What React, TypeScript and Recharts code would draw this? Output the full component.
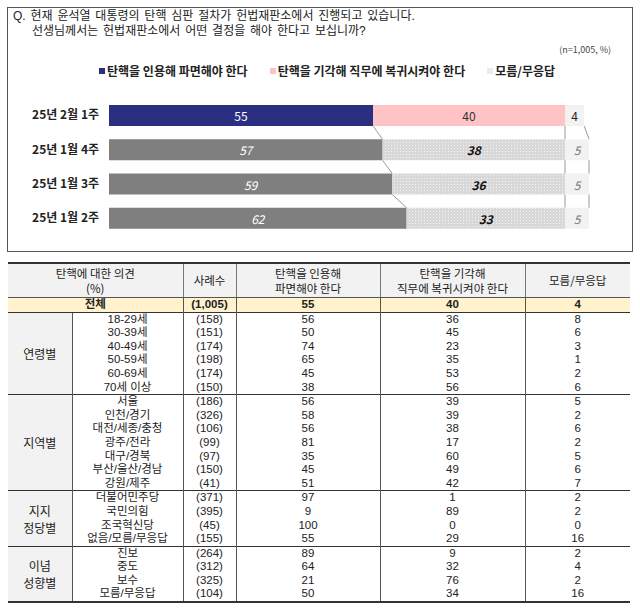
import { BarChart, Bar, XAxis, YAxis, Legend } from 'recharts'

const FONT = '"Noto Sans CJK KR", "Noto Sans", sans-serif'
const TABLE_FONT = '"Liberation Sans Narrow", "Liberation Sans", "Noto Sans CJK KR", sans-serif'
const TITLE_FONT = '"Liberation Sans", "Noto Sans CJK KR", sans-serif'

// chart data
const weeks = ['25년 2월 1주', '25년 1월 4주', '25년 1월 3주', '25년 1월 2주']
const removeVals = [55, 57, 59, 62]
const reinstateVals = [40, 38, 36, 33]
const unsureVals = [4, 5, 5, 5]
const seriesKeys = ['remove', 'reinstate', 'unsure']
const seriesNames = ['탄핵을 인용해 파면해야 한다', '탄핵을 기각해 직무에 복귀시켜야 한다', '모름/무응답']

// table data
type Row = [string, string, number, number, number]
const totalRow: Row = ['전체', '(1,005)', 55, 40, 4]
const ageRows: Row[] = [
  ['18-29세', '(158)', 56, 36, 8],
  ['30-39세', '(151)', 50, 45, 6],
  ['40-49세', '(174)', 74, 23, 3],
  ['50-59세', '(198)', 65, 35, 1],
  ['60-69세', '(174)', 45, 53, 2],
  ['70세 이상', '(150)', 38, 56, 6],
]
const regionRows: Row[] = [
  ['서울', '(186)', 56, 39, 5],
  ['인천/경기', '(326)', 58, 39, 2],
  ['대전/세종/충청', '(106)', 56, 38, 6],
  ['광주/전라', '(99)', 81, 17, 2],
  ['대구/경북', '(97)', 35, 60, 5],
  ['부산/울산/경남', '(150)', 45, 49, 6],
  ['강원/제주', '(41)', 51, 42, 7],
]
const partyRows: Row[] = [
  ['더불어민주당', '(371)', 97, 1, 2],
  ['국민의힘', '(395)', 9, 89, 2],
  ['조국혁신당', '(45)', 100, 0, 0],
  ['없음/모름/무응답', '(155)', 55, 29, 16],
]
const ideologyRows: Row[] = [
  ['진보', '(264)', 89, 9, 2],
  ['중도', '(312)', 64, 32, 4],
  ['보수', '(325)', 21, 76, 2],
  ['모름/무응답', '(104)', 50, 34, 16],
]
const groupLabels = [['연령별'], ['지역별'], ['지지', '정당별'], ['이념', '성향별']]
const groupRows = [ageRows, regionRows, partyRows, ideologyRows]

const chartData = weeks.map((w, i) => ({
  week: w,
  remove: removeVals[i],
  reinstate: reinstateVals[i],
  unsure: unsureVals[i],
}))

const CHART_W = 640
const CHART_H = 260
const MARGIN = { top: 98, right: 51, bottom: 25, left: 0 }
const STEP = (CHART_H - MARGIN.top - MARGIN.bottom) / weeks.length

const FIRST_FILL = ['#2b2f82', '#ffc3c6', '#f2f2f2']
const PAST_FILL = ['#7f7f7f', 'dots', '#f2f2f2']
const FIRST_LABEL = ['#ffffff', '#333333', '#222222']
const PAST_LABEL = ['#ffffff', '#111111', '#7a7a7a']

function makeShape(k: number) {
  return (props: any) => {
    const { x, y, width, height } = props
    const idx: number = props.index ?? 0
    const row: any = chartData[idx]
    const vals = seriesKeys.map(key => row[key] as number)
    const unit = width / vals[k]
    const before = vals.slice(0, k).reduce((a, b) => a + b, 0)
    const left = x - before * unit
    const first = idx === 0
    let fill = first ? FIRST_FILL[k] : PAST_FILL[k]
    const patId = `dots-${idx}`
    if (fill === 'dots') fill = `url(#${patId})`
    let connector = null
    if (idx < chartData.length - 1) {
      const next: any = chartData[idx + 1]
      const cumNext = seriesKeys.slice(0, k + 1).reduce((a, key) => a + (next[key] as number), 0)
      connector = (
        <line
          x1={x + width}
          y1={y + height}
          x2={left + cumNext * unit}
          y2={y + STEP}
          stroke="#9a9a9a"
          strokeWidth={1}
        />
      )
    }
    return (
      <g>
        {!first && k === 1 && (
          <defs>
            <pattern id={patId} width={3} height={3} patternUnits="userSpaceOnUse">
              <rect width={3} height={3} fill="#d8d8d8" />
              <rect x={1} y={1} width={1} height={1} fill="#f2f2f2" />
            </pattern>
          </defs>
        )}
        <rect x={x} y={y} width={width} height={height} fill={fill} />
        {connector}
        <text
          x={x + width / 2}
          y={y + height / 2}
          textAnchor="middle"
          dominantBaseline="central"
          fontSize={12}
          fontStyle={first ? 'normal' : 'italic'}
          fontWeight={!first && k === 1 ? 700 : 400}
          fill={first ? FIRST_LABEL[k] : PAST_LABEL[k]}
        >
          {vals[k]}
        </text>
      </g>
    )
  }
}

const legendSwatch = ['#2b2f82', '#ffc3c6', '#ececec']

function renderLegend() {
  return (
    <div style={{ display: 'flex', paddingLeft: 99, gap: 22, fontSize: 12, fontWeight: 700, color: '#222', lineHeight: '16px' }}>
      {seriesNames.map((n, i) => (
        <div key={n} style={{ display: 'flex', alignItems: 'center' }}>
          <span style={{ display: 'inline-block', width: 6, height: 6, background: legendSwatch[i], marginRight: 2 }} />
          <span>{n}</span>
        </div>
      ))}
    </div>
  )
}

const cellBase: React.CSSProperties = {
  padding: 0,
  height: 13.6,
  lineHeight: '13.6px',
  textAlign: 'center',
  borderLeft: '1px solid #555',
  whiteSpace: 'nowrap',
}

function DataTable() {
  const th: React.CSSProperties = {
    padding: 0,
    fontWeight: 400,
    fontSize: 11.5,
    fontFamily: FONT,
    height: 33,
    lineHeight: '15px',
    background: '#f2f2f2',
    borderTop: '2px solid #333',
    borderBottom: '1px solid #555',
    borderLeft: '1px solid #777',
    textAlign: 'center',
  }
  return (
    <table
      style={{
        position: 'absolute',
        left: 8,
        top: 262,
        width: 622,
        borderCollapse: 'collapse',
        tableLayout: 'fixed',
        fontSize: 11.5,
        color: '#222',
        fontFamily: TABLE_FONT,
      }}
    >
      <colgroup>
        <col style={{ width: 64 }} />
        <col style={{ width: 111 }} />
        <col style={{ width: 53 }} />
        <col style={{ width: 144 }} />
        <col style={{ width: 145 }} />
        <col style={{ width: 105 }} />
      </colgroup>
      <thead>
        <tr>
          <th colSpan={2} style={{ ...th, borderLeft: 'none' }}>탄핵에 대한 의견<br />(%)</th>
          <th style={th}>사례수</th>
          <th style={th}>탄핵을 인용해<br />파면해야 한다</th>
          <th style={th}>탄핵을 기각해<br />직무에 복귀시켜야 한다</th>
          <th style={th}>모름/무응답</th>
        </tr>
      </thead>
      <tbody>
        <tr style={{ background: '#fff2cc', fontWeight: 700 }}>
          <td colSpan={2} style={{ ...cellBase, borderLeft: 'none' }}>{totalRow[0]}</td>
          {totalRow.slice(1).map((v, i) => (
            <td key={i} style={cellBase}>{v}</td>
          ))}
        </tr>
        {groupRows.map((rows, g) =>
          rows.map((r, i) => {
            const sep: React.CSSProperties = i === 0 ? { borderTop: '1.5px solid #333' } : {}
            const last: React.CSSProperties =
              g === groupRows.length - 1 && i === rows.length - 1 ? { borderBottom: '2px solid #333' } : {}
            return (
              <tr key={`${g}-${i}`}>
                {i === 0 && (
                  <td
                    rowSpan={rows.length}
                    style={{
                      padding: 0,
                      textAlign: 'center',
                      verticalAlign: 'middle',
                      background: '#f2f2f2',
                      fontSize: 12,
                      lineHeight: '17px',
                      fontFamily: FONT,
                      borderTop: '1.5px solid #333',
                      borderBottom: g === groupRows.length - 1 ? '2px solid #333' : undefined,
                    }}
                  >
                    {groupLabels[g].map((l, j) => (
                      <div key={j}>{l}</div>
                    ))}
                  </td>
                )}
                {r.map((v, j) => (
                  <td key={j} style={{ ...cellBase, ...sep, ...last }}>{v}</td>
                ))}
              </tr>
            )
          })
        )}
      </tbody>
    </table>
  )
}

export default function App() {
  return (
    <div style={{ position: 'absolute', left: 0, top: 0, width: 640, height: 608, background: '#fff', fontFamily: FONT, color: '#222' }}>
      <div
        style={{
          position: 'absolute',
          left: 7,
          top: 7,
          width: 626,
          height: 245,
          border: '1.5px solid #555',
          boxSizing: 'border-box',
        }}
      />
      <div
        style={{
          position: 'absolute',
          left: 13,
          top: 8.5,
          fontSize: 12,
          lineHeight: '15px',
          color: '#222',
          wordSpacing: 1.5,
          fontFamily: TITLE_FONT,
        }}
      >
        <div>Q. 현재 윤석열 대통령의 탄핵 심판 절차가 헌법재판소에서 진행되고 있습니다.</div>
        <div style={{ marginLeft: 19 }}>선생님께서는 헌법재판소에서 어떤 결정을 해야 한다고 보십니까?</div>
      </div>
      <div style={{ position: 'absolute', right: 29, top: 44, fontSize: 9, lineHeight: '12px', color: '#444' }}>
        (n=1,005, %)
      </div>
      <div style={{ position: 'absolute', left: 0, top: 0 }}>
        <BarChart width={CHART_W} height={CHART_H} data={chartData} layout="vertical" margin={MARGIN}>
          <XAxis type="number" domain={[0, 100]} hide />
          <YAxis
            type="category"
            dataKey="week"
            width={109}
            axisLine={false}
            tickLine={false}
            tickMargin={4}
            tick={{ fontSize: 12, fontWeight: 700, fill: '#222' }}
          />
          <Legend
            verticalAlign="middle"
            align="center"
            layout="horizontal"
            wrapperStyle={{ top: 63, left: 0, width: 640, height: 16 }}
            content={renderLegend}
          />
          {seriesKeys.map((key, k) => (
            <Bar
              key={key}
              dataKey={key}
              name={seriesNames[k]}
              stackId="a"
              barSize={21}
              fill={FIRST_FILL[k] === 'dots' ? '#ddd' : FIRST_FILL[k]}
              shape={makeShape(k)}
              isAnimationActive={false}
            />
          ))}
        </BarChart>
      </div>
      <DataTable />
    </div>
  )
}
